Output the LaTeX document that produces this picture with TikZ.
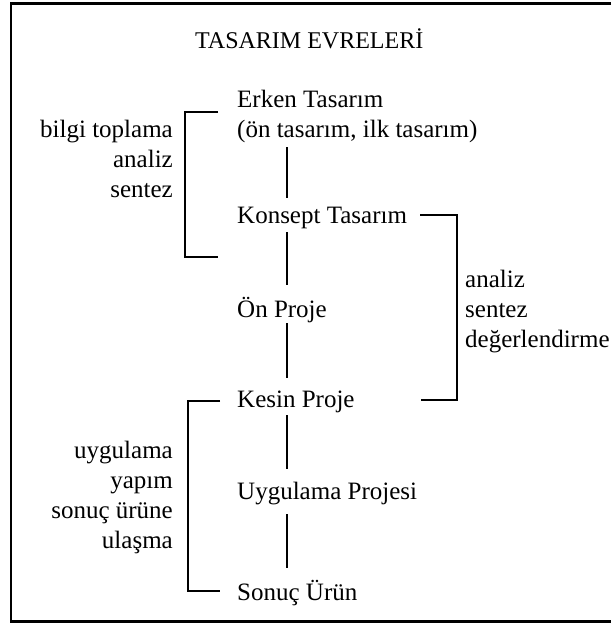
\documentclass[tikz,border=0pt]{standalone}
\usepackage{fontspec}
\setmainfont{Liberation Serif}
\begin{document}
\begin{tikzpicture}[x=1pt,y=-1pt,
  every node/.style={inner sep=0pt, font=\fontsize{25}{30}\selectfont},
  stage/.style={anchor=base west, text height=17pt, text depth=5pt},
  leftnote/.style={anchor=north east, align=right},
  rightnote/.style={anchor=north west, align=left},
  link/.style={line width=2pt},
  brace/.style={line width=2pt},
  frame/.style={line width=2.6pt}]
  \useasboundingbox (0,0) rectangle (611,623);

  % outer frame (open on the right)
  \draw[frame] (611,3.5) -- (11,3.5) -- (11,621.5) -- (611,621.5);

  % title
  \node[anchor=base west, font=\fontsize{24}{30}\selectfont] (title) at (195,49) {TASARIM EVRELER\.I};

  % design stages
  \coordinate (lx) at (287,0);
  \node[anchor=north west, align=left] (erken) at (237,86)
    {\strut Erken Tasarım\\(ön tasarım, ilk tasarım)\strut};
  \node[stage] (konsept) at (237,223) {Konsept Tasarım};
  \node[stage] (on) at (237,317) {Ön Proje};
  \node[stage] (kesin) at (237,407) {Kesin Proje};
  \node[stage] (uyg) at (237,499) {Uygulama Projesi};
  \node[stage] (sonuc) at (237,600) {Sonuç Ürün};

  \draw[link, shorten <=1pt, shorten >=8pt] (erken.south -| lx) -- (konsept.north -| lx);
  \draw[link, shorten <=4pt, shorten >=15pt] (konsept.south -| lx) -- (on.north -| lx);
  \draw[link, shorten <=1pt, shorten >=12pt] (on.south -| lx) -- (kesin.north -| lx);
  \draw[link, shorten <=3pt, shorten >=13pt] (kesin.south -| lx) -- (uyg.north -| lx);
  \draw[link, shorten <=10pt, shorten >=15pt] (uyg.south -| lx) -- (sonuc.north -| lx);

  % activity groups
  \node[leftnote] (g1) at (173,116) {\strut bilgi toplama\\analiz\\sentez};
  \node[rightnote] (g2) at (465,266) {\strut analiz\\sentez\\değerlendirme};
  \node[leftnote] (g3) at (173,437) {\strut uygulama\\yapım\\sonuç ürüne\\ulaşma};

  % brackets
  \draw[brace] (218,112) -- (185,112) -- (185,257) -- (218,257);
  \draw[brace] (420,215) -- (457,215) -- (457,400) -- (421,400);
  \draw[brace] (220,401) -- (188,401) -- (188,591) -- (220,591);
\end{tikzpicture}
\end{document}
